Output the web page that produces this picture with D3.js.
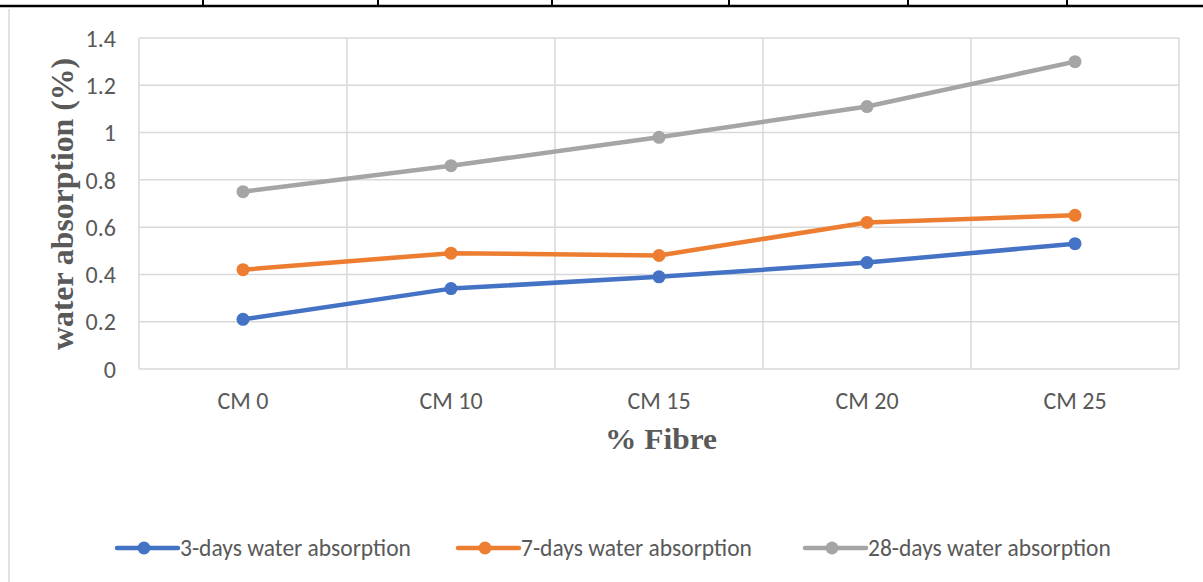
<!DOCTYPE html>
<html>
<head>
<meta charset="utf-8">
<script src="https://cdn.jsdelivr.net/npm/d3@7"></script>
<style>
  html, body { margin: 0; padding: 0; background: #fff; }
  svg { display: block; }
</style>
</head>
<body>
<svg id="chart" width="1203" height="582"></svg>
<script>
// Water absorption by fibre content
const categories = ["CM 0", "CM 10", "CM 15", "CM 20", "CM 25"];
const days3 = [0.21, 0.34, 0.39, 0.45, 0.53];
const days7 = [0.42, 0.49, 0.48, 0.62, 0.65];
const days28 = [0.75, 0.86, 0.98, 1.11, 1.30];
const seriesNames = ["3-days water absorption", "7-days water absorption", "28-days water absorption"];
const yTicks = [0, 0.2, 0.4, 0.6, 0.8, 1, 1.2, 1.4];

const colors = ["#4472C4", "#ED7D31", "#A5A5A5"];
const series = [days3, days7, days28].map((v, i) => ({ name: seriesNames[i], values: v, color: colors[i] }));

const svg = d3.select("#chart");
const sansFont = "Carlito, Lato, 'Open Sans', sans-serif";
const serifFont = "'Liberation Serif', 'Times New Roman', serif";
const textColor = "#595959";

// table rule along the top and chart frame
const tableRule = svg.append("g");
tableRule.append("line").attr("x1", 0).attr("x2", 1203).attr("y1", 6).attr("y2", 6)
  .attr("stroke", "#000").attr("stroke-width", 2.5);
[203, 378, 552, 729, 908, 1067].forEach(xp => {
  tableRule.append("line").attr("x1", xp).attr("x2", xp).attr("y1", 0).attr("y2", 6)
    .attr("stroke", "#000").attr("stroke-width", 2);
});
svg.append("line").attr("x1", 9).attr("x2", 9).attr("y1", 9).attr("y2", 582)
  .attr("stroke", "#d9d9d9").attr("stroke-width", 1.5);

const plot = { left: 139, right: 1179, top: 38, bottom: 369 };

const x = d3.scaleBand().domain(categories).range([plot.left, plot.right]);
const y = d3.scaleLinear().domain([0, 1.4]).range([plot.bottom, plot.top]);

// horizontal gridlines
svg.append("g").selectAll("line").data(yTicks).join("line")
  .attr("x1", plot.left).attr("x2", plot.right)
  .attr("y1", d => y(d)).attr("y2", d => y(d))
  .attr("stroke", "#d9d9d9").attr("stroke-width", 1.5);

// vertical gridlines at category boundaries
const bounds = categories.map(c => x(c)).concat([plot.right]);
svg.append("g").selectAll("line").data(bounds).join("line")
  .attr("x1", d => d).attr("x2", d => d)
  .attr("y1", plot.top).attr("y2", plot.bottom)
  .attr("stroke", "#d9d9d9").attr("stroke-width", 1.5);

// y axis labels
const yAxis = d3.axisLeft(y).tickValues(yTicks).tickSize(0).tickPadding(0)
  .tickFormat(d => d3.format("~g")(d));
const gy = svg.append("g").attr("transform", `translate(116,0)`).call(yAxis);
gy.select(".domain").remove();
gy.selectAll("text").attr("font-family", sansFont).attr("font-size", 24)
  .attr("fill", textColor).attr("dy", "0.34em");

// x axis labels
const xAxis = d3.axisBottom(x).tickSize(0).tickPadding(0);
const gx = svg.append("g").attr("transform", `translate(0,${plot.bottom + 40})`).call(xAxis);
gx.select(".domain").remove();
gx.selectAll("text").attr("font-family", sansFont).attr("font-size", 24)
  .attr("fill", textColor).attr("dy", 0).attr("y", 0);

// axis titles
svg.append("text")
  .attr("transform", `translate(73,204) rotate(-90)`)
  .attr("text-anchor", "middle")
  .attr("font-family", serifFont).attr("font-weight", "bold").attr("font-size", 31)
  .attr("textLength", 292).attr("lengthAdjust", "spacingAndGlyphs")
  .attr("fill", textColor)
  .text("water absorption (%)");

svg.append("text")
  .attr("x", 661).attr("y", 449)
  .attr("text-anchor", "middle")
  .attr("font-family", serifFont).attr("font-weight", "bold").attr("font-size", 30)
  .attr("textLength", 112).attr("lengthAdjust", "spacingAndGlyphs")
  .attr("fill", textColor)
  .text("% Fibre");

// series lines and markers
const line = d3.line().x((d, i) => x(categories[i]) + x.bandwidth() / 2).y(d => y(d));
series.forEach(s => {
  svg.append("path").datum(s.values)
    .attr("d", line).attr("fill", "none")
    .attr("stroke", s.color).attr("stroke-width", 4.5)
    .attr("stroke-linejoin", "round").attr("stroke-linecap", "round");
  svg.append("g").selectAll("circle").data(s.values).join("circle")
    .attr("cx", (d, i) => x(categories[i]) + x.bandwidth() / 2)
    .attr("cy", d => y(d)).attr("r", 6.5)
    .attr("fill", s.color);
});

// legend
const legendX = [117, 458, 805];
const legend = svg.append("g");
series.forEach((s, i) => {
  const g = legend.append("g").attr("transform", `translate(${legendX[i]},548)`);
  g.append("line").attr("x1", 0).attr("x2", 61).attr("y1", 0).attr("y2", 0)
    .attr("stroke", s.color).attr("stroke-width", 4.5).attr("stroke-linecap", "round");
  g.append("circle").attr("cx", 27).attr("cy", 0).attr("r", 6.5).attr("fill", s.color);
  g.append("text").attr("x", 63).attr("y", 8)
    .attr("font-family", sansFont).attr("font-size", 23.5).attr("fill", textColor)
    .text(s.name);
});
</script>
</body>
</html>
